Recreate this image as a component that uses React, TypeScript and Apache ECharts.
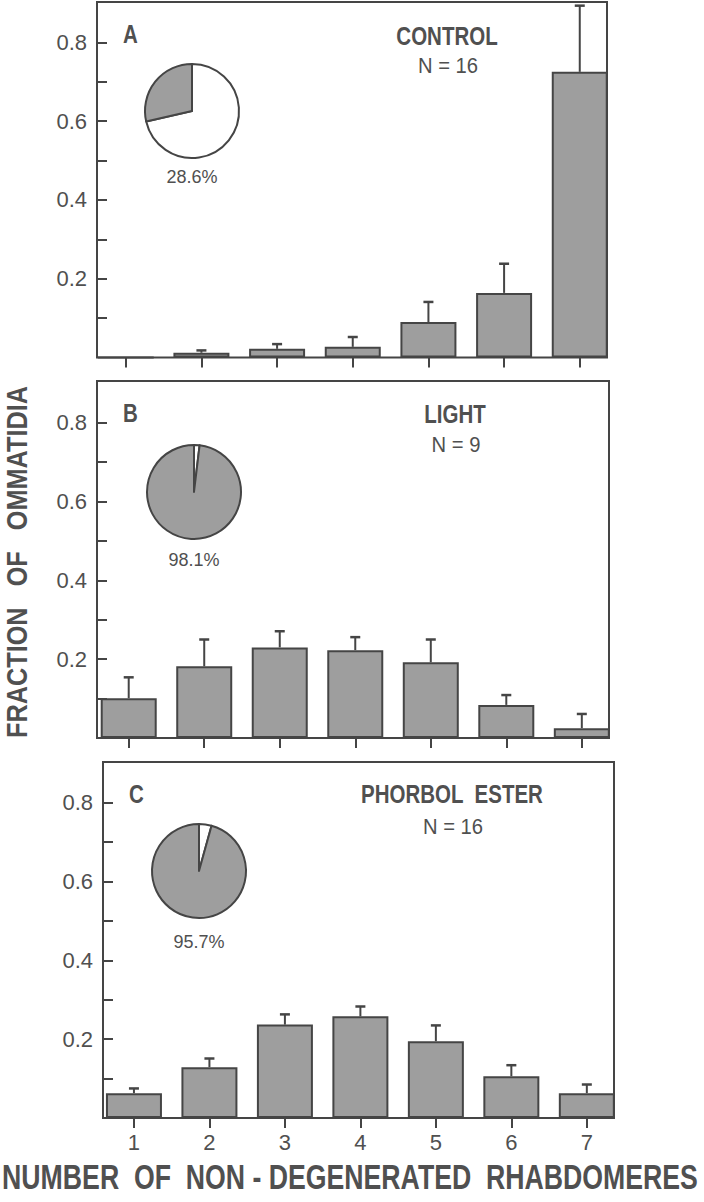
import React, { useEffect, useRef } from "react";
import * as echarts from "echarts";

// ---- data ----
const categories = [1, 2, 3, 4, 5, 6, 7];
const controlMeans = [0, 0.012, 0.022, 0.027, 0.09, 0.164, 0.725];
const controlErrTop = [0, 0.018, 0.034, 0.052, 0.141, 0.238, 0.893];
const lightMeans = [0.101, 0.182, 0.23, 0.223, 0.192, 0.084, 0.025];
const lightErrTop = [0.154, 0.25, 0.271, 0.256, 0.25, 0.109, 0.061];
const phorbolMeans = [0.063, 0.129, 0.237, 0.258, 0.195, 0.106, 0.063];
const phorbolErrTop = [0.075, 0.151, 0.263, 0.283, 0.235, 0.134, 0.085];
const yTickValues = [0.1, 0.2, 0.3, 0.4, 0.5, 0.6, 0.7, 0.8];
const yLabelValues = [0.2, 0.4, 0.6, 0.8];
const panelLetters = ["A", "B", "C"];
const panelTitles = ["CONTROL", "LIGHT", "PHORBOL  ESTER"];
const panelN = ["N = 16", "N = 9", "N = 16"];
const piePercents = [28.6, 98.1, 95.7];
const yAxisTitle = "FRACTION   OF   OMMATIDIA";
const xAxisTitle = "NUMBER  OF  NON - DEGENERATED  RHABDOMERES";

const means = [controlMeans, lightMeans, phorbolMeans];
const errTops = [controlErrTop, lightErrTop, phorbolErrTop];

// ---- layout ----
const W = 704;
const H = 1202;
const panels = [
  { left: 97, right: 607, top: 2, bottom: 357.5, xMin: 0.62, xMax: 7.36, pie: [192, 111], titleX: 447, letterY: 34, titleY: 36, nY: 65, pctY: 177 },
  { left: 97, right: 609, top: 381, bottom: 738, xMin: 0.58, xMax: 7.36, pie: [194, 492], titleX: 455, letterY: 413, titleY: 414, nY: 444, pctY: 560 },
  { left: 103, right: 614, top: 762, bottom: 1118, xMin: 0.59, xMax: 7.36, pie: [199, 871], titleX: 452, letterY: 794, titleY: 794, nY: 826, pctY: 942 },
];
const PX_PER_UNIT = 394;

const INK = "#454545";
const TEXT = "#505050";
const FILL = "#9e9e9e";
const SANS = "'Liberation Sans', Arial, sans-serif";
const NARROW_SCALE = 0.82;

function measure(text: string, font: string): number {
  const c = document.createElement("canvas").getContext("2d");
  if (!c) return text.length * 20;
  c.font = font;
  return c.measureText(text).width;
}

export default function App() {
  const ref = useRef<HTMLDivElement>(null);

  useEffect(() => {
    if (!ref.current) return;
    const chart = echarts.init(ref.current, undefined, { renderer: "svg", width: W, height: H });

    const grid: any[] = [];
    const xAxis: any[] = [];
    const yAxis: any[] = [];
    const series: any[] = [];
    const graphic: any[] = [];

    panels.forEach((p, i) => {
      const yMax = (p.bottom - p.top) / PX_PER_UNIT;
      grid.push({
        left: p.left,
        top: p.top,
        width: p.right - p.left,
        height: p.bottom - p.top,
        show: true,
        borderColor: INK,
        borderWidth: 2,
        backgroundColor: "transparent",
      });
      xAxis.push({
        type: "value",
        gridIndex: i,
        min: p.xMin,
        max: p.xMax,
        axisLine: { show: false },
        splitLine: { show: false },
        axisTick: {
          show: true,
          customValues: categories,
          length: 10,
          inside: false,
          lineStyle: { color: INK, width: 2 },
        },
        axisLabel: {
          show: i === 2,
          customValues: categories,
          formatter: (v: number) => String(Math.round(v)),
          margin: 13,
          fontSize: 22,
          fontFamily: SANS,
          color: TEXT,
        },
      });
      yAxis.push({
        type: "value",
        gridIndex: i,
        min: 0,
        max: yMax,
        axisLine: { show: false },
        splitLine: { show: false },
        axisTick: {
          show: true,
          customValues: yTickValues,
          inside: true,
          length: 10,
          lineStyle: { color: INK, width: 2 },
        },
        axisLabel: {
          customValues: yLabelValues,
          formatter: (v: number) => v.toFixed(1),
          margin: 10,
          fontSize: 22,
          fontFamily: SANS,
          color: TEXT,
        },
      });
      series.push({
        type: "bar",
        xAxisIndex: i,
        yAxisIndex: i,
        barWidth: 56,
        data: categories.map((c, k) => [c, means[i][k]]),
        itemStyle: { color: FILL, borderColor: INK, borderWidth: 2 },
        z: 2,
      });
      series.push({
        type: "custom",
        xAxisIndex: i,
        yAxisIndex: i,
        z: 3,
        data: categories.map((c, k) => [c, means[i][k], errTops[i][k]]),
        renderItem: (_params: any, api: any) => {
          const x = api.value(0);
          const y = api.value(1);
          const e = api.value(2);
          if (!(e > y)) return null;
          const p0 = api.coord([x, y]);
          const p1 = api.coord([x, e]);
          return {
            type: "group",
            children: [
              { type: "line", shape: { x1: p0[0], y1: p0[1], x2: p1[0], y2: p1[1] }, style: { stroke: INK, lineWidth: 2 } },
              { type: "line", shape: { x1: p1[0] - 5, y1: p1[1], x2: p1[0] + 5, y2: p1[1] }, style: { stroke: INK, lineWidth: 2.5 } },
            ],
          };
        },
      });
      series.push({
        type: "pie",
        center: p.pie,
        radius: 47,
        startAngle: 90,
        clockwise: true,
        silent: true,
        label: { show: false },
        labelLine: { show: false },
        itemStyle: { borderColor: INK, borderWidth: 2 },
        data: [
          { value: 100 - piePercents[i], itemStyle: { color: "#ffffff" } },
          { value: piePercents[i], itemStyle: { color: FILL } },
        ],
      });
      graphic.push({
        type: "text",
        x: p.pie[0],
        y: p.pctY,
        style: { text: piePercents[i].toFixed(1) + "%", font: `18px ${SANS}`, fill: TEXT, textAlign: "center", textVerticalAlign: "middle" },
      });
      graphic.push({
        type: "text",
        x: p.left + 26,
        y: p.letterY,
        scaleX: NARROW_SCALE,
        style: { text: panelLetters[i], font: `bold 25px ${SANS}`, fill: TEXT, textAlign: "left", textVerticalAlign: "middle" },
      });
      graphic.push({
        type: "text",
        x: p.titleX,
        y: p.titleY,
        scaleX: NARROW_SCALE,
        style: { text: panelTitles[i], font: `bold 25px ${SANS}`, fill: TEXT, textAlign: "center", textVerticalAlign: "middle" },
      });
      graphic.push({
        type: "text",
        x: p.titleX + 1,
        y: p.nY,
        scaleX: 0.92,
        style: { text: panelN[i], font: `22px ${SANS}`, fill: TEXT, textAlign: "center", textVerticalAlign: "middle" },
      });
    });

    const yTitleFont = `bold 29px ${SANS}`;
    const yTitleScale = 352 / measure(yAxisTitle, yTitleFont);
    graphic.push({
      type: "text",
      x: 17,
      y: 562,
      rotation: Math.PI / 2,
      scaleX: yTitleScale,
      style: { text: yAxisTitle, font: yTitleFont, fill: TEXT, textAlign: "center", textVerticalAlign: "middle" },
    });
    const xTitleFont = `bold 35px ${SANS}`;
    const xTitleScale = 696 / measure(xAxisTitle, xTitleFont);
    graphic.push({
      type: "text",
      x: 350,
      y: 1177,
      scaleX: xTitleScale,
      style: { text: xAxisTitle, font: xTitleFont, fill: TEXT, textAlign: "center", textVerticalAlign: "middle" },
    });

    chart.setOption({
      animation: false,
      backgroundColor: "#ffffff",
      grid,
      xAxis,
      yAxis,
      series,
      graphic,
    });

    return () => chart.dispose();
  }, []);

  return <div ref={ref} style={{ position: "absolute", left: 0, top: 0, width: W, height: H }} />;
}
